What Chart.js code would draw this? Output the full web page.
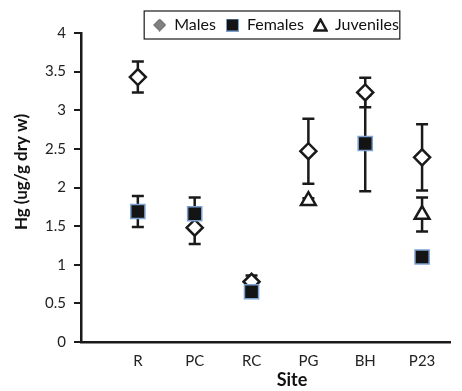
<!DOCTYPE html>
<html>
<head>
<meta charset="utf-8">
<script src="https://cdn.jsdelivr.net/npm/chart.js@4/dist/chart.umd.min.js"></script>
<style>
  body { margin: 0; background: #fff; }
  #wrap { width: 462px; height: 391px; }
</style>
</head>
<body>
<div id="wrap"><canvas id="myChart" width="462" height="391"></canvas></div>
<script>
let sites = ["R", "PC", "RC", "PG", "BH", "P23"];
let males = [3.43, 1.48, 0.78, 2.47, 3.23, 2.39];
let malesErr = [0.2, 0.21, 0.08, 0.42, 0.19, 0.43];
let females = [1.69, 1.66, 0.65, null, 2.57, 1.10];
let femalesErr = [0.2, 0.21, 0, null, 0.62, 0];
let juveniles = [null, null, null, 1.83, null, 1.65];
let juvenilesErr = [null, null, null, 0.03, null, 0.22];
let yTicks = [0, 0.5, 1, 1.5, 2, 2.5, 3, 3.5, 4];

let font = 'Lato, "Open Sans", sans-serif';
let ink = '#1a1a1a';

function points(vals) {
    return vals.map((v, i) => ({x: i + 1, y: v}));
}

// little canvases for the legend markers
function marker(w, h, draw) {
    let c = document.createElement('canvas');
    c.width = w; c.height = h;
    draw(c.getContext('2d'));
    return c;
}
let legendMarks = {
    Males: marker(13, 13, g => {
        g.beginPath();
        g.moveTo(6.5, 0.5); g.lineTo(12.5, 6.5); g.lineTo(6.5, 12.5); g.lineTo(0.5, 6.5);
        g.closePath();
        g.fillStyle = '#808080'; g.fill();
        g.strokeStyle = '#555'; g.lineWidth = 1; g.stroke();
    }),
    Females: marker(13, 13, g => {
        g.fillStyle = '#141414'; g.fillRect(0, 0, 13, 13);
        g.strokeStyle = '#7da2d1'; g.lineWidth = 1; g.strokeRect(0.5, 0.5, 12, 12);
    }),
    Juveniles: marker(15, 14, g => {
        g.beginPath();
        g.moveTo(7.5, 1.5); g.lineTo(13.5, 12.5); g.lineTo(1.5, 12.5);
        g.closePath();
        g.fillStyle = '#fff'; g.fill();
        g.strokeStyle = ink; g.lineWidth = 2.5; g.stroke();
    })
};

// error bars drawn under the markers
let errorBars = {
    id: 'errorBars',
    beforeDatasetsDraw(chart) {
        let ctx = chart.ctx, xs = chart.scales.x, ys = chart.scales.y;
        ctx.save();
        ctx.strokeStyle = ink;
        ctx.lineWidth = 2.5;
        chart.data.datasets.forEach(ds => {
            ds.data.forEach((p, i) => {
                let e = ds.errors[i];
                if (p.y == null || !e) return;
                let x = xs.getPixelForValue(p.x);
                let top = ys.getPixelForValue(p.y + e);
                let bot = ys.getPixelForValue(p.y - e);
                ctx.beginPath();
                ctx.moveTo(x, top); ctx.lineTo(x, bot);
                ctx.moveTo(x - 6, top); ctx.lineTo(x + 6, top);
                ctx.moveTo(x - 6, bot); ctx.lineTo(x + 6, bot);
                ctx.stroke();
            });
        });
        ctx.restore();
    }
};

// legend sits over the top of the plot, in a frame
let legendPad = 10;
let legendX = 271 + legendPad / 2, legendY = 25;
let legendFrame = {
    id: 'legendFrame',
    afterLayout(chart) {
        let lg = chart.legend;
        let dx = legendX - (lg.left + lg.right) / 2;
        let dy = legendY - (lg.top + lg.bottom) / 2;
        lg.left += dx; lg.right += dx;
        lg.top += dy; lg.bottom += dy;
    },
    afterDraw(chart) {
        let w = chart.legend.lineWidths[0];
        let x0 = legendX - w / 2 - 4;
        let x1 = legendX + w / 2 - legendPad + 6;
        let ctx = chart.ctx;
        ctx.save();
        ctx.strokeStyle = ink;
        ctx.lineWidth = 1.2;
        ctx.strokeRect(x0, legendY - 14, x1 - x0, 28);
        // axis titles
        ctx.fillStyle = '#111';
        ctx.font = 'bold 18px ' + font;
        ctx.textAlign = 'center';
        ctx.textBaseline = 'middle';
        ctx.fillText('Site', 292, 380);
        ctx.translate(22, 172);
        ctx.rotate(-Math.PI / 2);
        ctx.font = 'bold 17px ' + font;
        ctx.fillText('Hg (ug/g dry w)', 0, 0);
        ctx.restore();
    }
};

let ctx = document.getElementById("myChart").getContext('2d');
let myChart = new Chart(ctx, {
    type: 'scatter',
    data: {
        datasets: [{
            label: 'Males',
            data: points(males),
            errors: malesErr,
            pointStyle: 'rectRot',
            pointRadius: 8,
            pointHoverRadius: 8,
            backgroundColor: '#ffffff',
            borderColor: ink,
            pointBorderWidth: 2.5,
            order: 2
        }, {
            label: 'Females',
            data: points(females),
            errors: femalesErr,
            pointStyle: 'rect',
            pointRadius: 10,
            pointHoverRadius: 10,
            backgroundColor: '#141414',
            borderColor: '#7da2d1',
            pointBorderWidth: 1.5,
            order: 1
        }, {
            label: 'Juveniles',
            data: points(juveniles),
            errors: juvenilesErr,
            pointStyle: 'triangle',
            pointRadius: 8.5,
            pointHoverRadius: 8.5,
            backgroundColor: '#ffffff',
            borderColor: ink,
            pointBorderWidth: 2.5,
            order: 0
        }]
    },
    options: {
        responsive: false,
        animation: false,
        layout: { padding: { left: 0, right: 2, top: -3, bottom: 0 } },
        plugins: {
            tooltip: { enabled: false },
            legend: {
                position: 'top',
                labels: {
                    usePointStyle: true,
                    boxWidth: 13,
                    boxHeight: 13,
                    color: '#111',
                    font: { family: font, size: 16 },
                    padding: legendPad,
                    sort: (a, b) => a.datasetIndex - b.datasetIndex,
                    generateLabels(chart) {
                        let items = Chart.defaults.plugins.legend.labels.generateLabels(chart);
                        items.forEach(it => { it.pointStyle = legendMarks[it.text]; });
                        return items;
                    }
                }
            }
        },
        scales: {
            x: {
                type: 'linear',
                min: 0,
                max: 6.5,
                afterBuildTicks: s => { s.ticks = sites.map((n, i) => ({value: i + 1})); },
                afterFit: s => { s.height = 49; },
                ticks: {
                    callback: v => sites[v - 1],
                    color: '#222',
                    font: { family: font, size: 15 },
                    padding: 2,
                    maxRotation: 0
                },
                grid: { display: false },
                border: { color: ink, width: 2.5 }
            },
            y: {
                min: 0,
                max: 4,
                afterBuildTicks: s => { s.ticks = yTicks.map(v => ({value: v})); },
                afterFit: s => { s.width = 81; },
                ticks: {
                    callback: v => String(v),
                    color: '#222',
                    font: { family: font, size: 15 },
                    padding: 8
                },
                grid: { drawOnChartArea: false, drawTicks: true, tickLength: 7, color: ink, lineWidth: 2 },
                border: { color: ink, width: 2.5 }
            }
        }
    },
    plugins: [errorBars, legendFrame]
});
</script>
</body>
</html>
